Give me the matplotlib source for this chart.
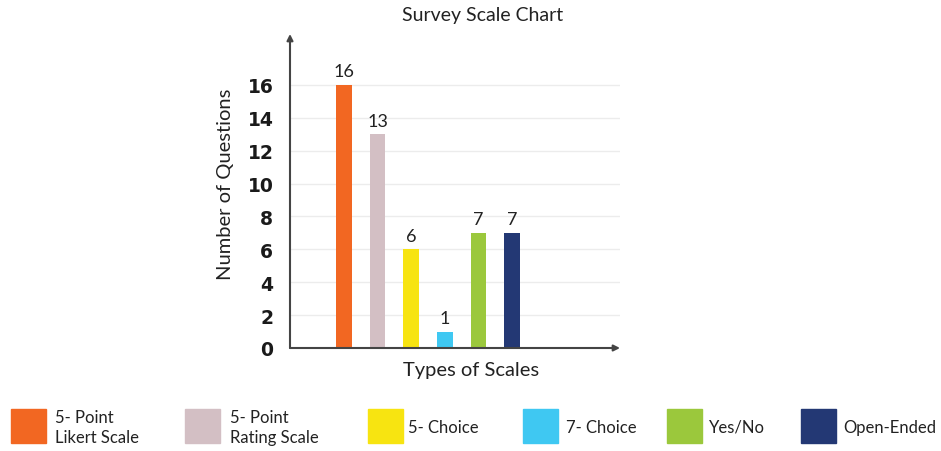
import matplotlib
matplotlib.use("Agg")
import matplotlib.pyplot as plt
from matplotlib.patches import Rectangle

plt.rcParams['font.family'] = ['Lato', 'DejaVu Sans']

categories = ["5- Point\nLikert Scale", "5- Point\nRating Scale", "5- Choice",
              "7- Choice", "Yes/No", "Open-Ended"]
values = [16, 13, 6, 1, 7, 7]
colors = ["#F26722", "#D3BFC4", "#F7E411", "#3FC8F2", "#9BC83C", "#233874"]
yticks = [0, 2, 4, 6, 8, 10, 12, 14, 16]

W, H = 941, 452
fig = plt.figure(figsize=(W / 100, H / 100), dpi=100)

# axes box in pixel terms: left 290, right 620, bottom (x-axis) 349, top 35
ax = fig.add_axes([290 / W, (H - 349) / H, 330 / W, (349 - 35) / H])
ax.set_xlim(-1.607, 8.214)
ax.set_ylim(0, 19.1)

for v in yticks[1:]:
    ax.axhline(v, color="#ececec", lw=1.0, zorder=0)

xs = list(range(len(values)))
ax.bar(xs, values, width=0.46, color=colors, zorder=2)
for x, v in zip(xs, values):
    ax.text(x, v + 0.35, str(v), ha="center", va="bottom", fontsize=13,
            color="#222222")

ax.set_xticks([])
ax.set_yticks(yticks)
ax.set_yticklabels([str(t) for t in yticks], fontsize=13.5, fontweight="bold",
                   color="#1a1a1a", family="DejaVu Sans")
ax.tick_params(axis="y", length=0, pad=12)

for s in ax.spines.values():
    s.set_visible(False)

# axis lines with arrowheads
axis_col = "#444444"
ax.annotate("", xy=(0, 1.0), xytext=(0, 0), xycoords="axes fraction",
            arrowprops=dict(arrowstyle="-|>", color=axis_col, lw=1.5,
                            mutation_scale=9, shrinkA=0, shrinkB=0),
            annotation_clip=False)
ax.annotate("", xy=(1.0, 0), xytext=(0, 0), xycoords="axes fraction",
            arrowprops=dict(arrowstyle="-|>", color=axis_col, lw=1.5,
                            mutation_scale=9, shrinkA=0, shrinkB=0),
            annotation_clip=False)

fig.text(483 / W, 1 - 16 / H, "Survey Scale Chart", ha="center", va="center",
         fontsize=14, color="#222222")
fig.text(471 / W, 1 - 371 / H, "Types of Scales", ha="center", va="center",
         fontsize=14.5, color="#222222")
fig.text(226 / W, 1 - 184 / H, "Number of Questions", ha="center", va="center",
         rotation=90, fontsize=14.5, color="#222222")

# legend row along the bottom
patch_x = [11, 185, 368, 523, 667, 801]
text_x = [55, 230, 408, 566, 709, 843]
for px, tx, c, lab in zip(patch_x, text_x, colors, categories):
    fig.add_artist(Rectangle((px / W, 1 - 444 / H), 35 / W, 34 / H,
                             transform=fig.transFigure, color=c))
    fig.text(tx / W, 1 - 428 / H, lab, ha="left", va="center", fontsize=12,
             color="#222222", linespacing=1.3)

fig.savefig("out.png", dpi=100)
